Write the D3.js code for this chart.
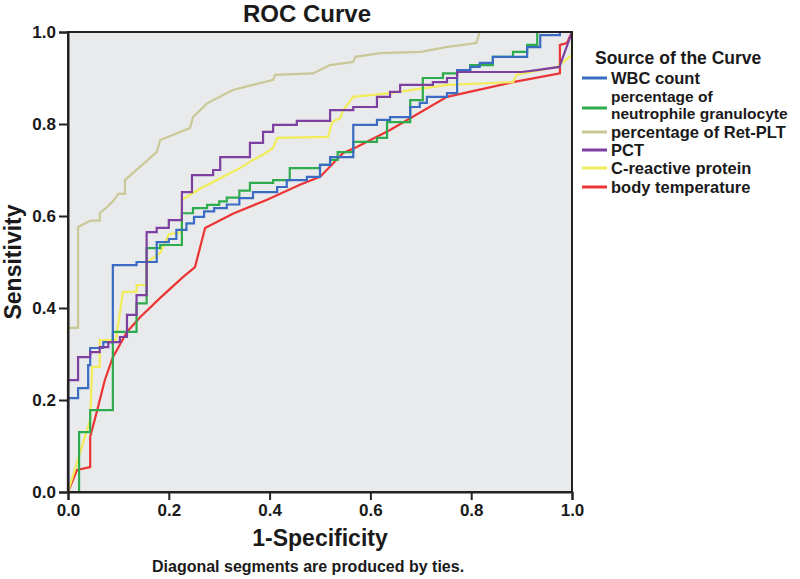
<!DOCTYPE html>
<html><head><meta charset="utf-8">
<script src="https://cdn.jsdelivr.net/npm/d3@7/dist/d3.min.js"></script>
<style>body{margin:0;background:#fff}svg text{font-family:"Liberation Sans",Arial,sans-serif;font-weight:bold;fill:#1a1a1a}</style>
</head><body><svg id="c" width="800" height="579"></svg>
<script>
const seriesNames = ["WBC count","percentage of neutrophile granulocyte","percentage of Ret-PLT","PCT","C-reactive protein","body temperature"];
const seriesColors = ["#3b6cc4","#2eab4c","#cbc897","#7d40a0","#f1ec58","#ec3434"];
const xTicks = [0,0.2,0.4,0.6,0.8,1.0];
const yTicks = [0,0.2,0.4,0.6,0.8,1.0];

const wbc = [[0,0],[0,0.204],[0.02,0.204],[0.02,0.226],[0.04,0.226],[0.04,0.276],[0.044,0.276],[0.044,0.313],[0.07,0.313],[0.07,0.326],[0.089,0.326],[0.089,0.493],[0.136,0.493],[0.136,0.5],[0.176,0.5],[0.176,0.543],[0.2,0.543],[0.2,0.55],[0.215,0.55],[0.215,0.57],[0.235,0.57],[0.235,0.584],[0.25,0.584],[0.25,0.598],[0.27,0.598],[0.27,0.61],[0.29,0.61],[0.29,0.617],[0.315,0.617],[0.315,0.625],[0.34,0.625],[0.34,0.639],[0.367,0.639],[0.367,0.652],[0.415,0.652],[0.415,0.663],[0.434,0.663],[0.434,0.678],[0.474,0.678],[0.474,0.685],[0.5,0.685],[0.5,0.711],[0.52,0.711],[0.52,0.728],[0.566,0.728],[0.566,0.798],[0.613,0.798],[0.613,0.809],[0.639,0.809],[0.639,0.815],[0.679,0.815],[0.679,0.837],[0.698,0.837],[0.698,0.846],[0.712,0.846],[0.712,0.859],[0.752,0.859],[0.752,0.867],[0.772,0.867],[0.772,0.917],[0.798,0.917],[0.798,0.924],[0.817,0.924],[0.817,0.933],[0.843,0.933],[0.843,0.946],[0.911,0.946],[0.911,0.967],[0.937,0.967],[0.937,0.993],[0.976,0.993],[0.976,1],[1,1]];
const neutro = [[0,0],[0.022,0],[0.022,0.13],[0.044,0.13],[0.044,0.178],[0.089,0.178],[0.089,0.348],[0.136,0.348],[0.136,0.41],[0.156,0.41],[0.156,0.53],[0.183,0.53],[0.183,0.537],[0.226,0.537],[0.226,0.606],[0.248,0.606],[0.248,0.617],[0.276,0.617],[0.276,0.624],[0.3,0.624],[0.3,0.632],[0.315,0.632],[0.315,0.64],[0.34,0.64],[0.34,0.655],[0.361,0.655],[0.361,0.672],[0.407,0.672],[0.407,0.678],[0.44,0.678],[0.44,0.704],[0.5,0.704],[0.5,0.711],[0.52,0.711],[0.52,0.722],[0.535,0.722],[0.535,0.739],[0.566,0.739],[0.566,0.761],[0.613,0.761],[0.613,0.77],[0.633,0.77],[0.633,0.804],[0.679,0.804],[0.679,0.852],[0.704,0.852],[0.704,0.9],[0.744,0.9],[0.744,0.91],[0.772,0.91],[0.772,0.917],[0.798,0.917],[0.798,0.928],[0.843,0.928],[0.843,0.946],[0.883,0.946],[0.883,0.957],[0.911,0.957],[0.911,0.972],[0.931,0.972],[0.931,1],[1,1]];
const retplt = [[0,0],[0,0.357],[0.02,0.357],[0.02,0.576],[0.045,0.59],[0.063,0.59],[0.063,0.606],[0.075,0.617],[0.09,0.633],[0.1,0.648],[0.113,0.648],[0.113,0.678],[0.176,0.739],[0.183,0.765],[0.242,0.791],[0.248,0.815],[0.276,0.845],[0.327,0.874],[0.367,0.885],[0.407,0.896],[0.411,0.907],[0.486,0.91],[0.52,0.928],[0.566,0.935],[0.57,0.946],[0.62,0.954],[0.70,0.957],[0.75,0.967],[0.81,0.976],[0.817,1.0],[1,1]];
const pct = [[0,0],[0,0.243],[0.02,0.243],[0.02,0.293],[0.044,0.293],[0.044,0.304],[0.063,0.304],[0.063,0.315],[0.08,0.315],[0.08,0.326],[0.103,0.326],[0.103,0.337],[0.117,0.337],[0.117,0.385],[0.136,0.385],[0.136,0.428],[0.156,0.428],[0.156,0.565],[0.176,0.565],[0.176,0.574],[0.2,0.574],[0.2,0.591],[0.226,0.591],[0.226,0.652],[0.246,0.652],[0.246,0.689],[0.288,0.689],[0.288,0.7],[0.302,0.7],[0.302,0.728],[0.361,0.728],[0.361,0.759],[0.387,0.759],[0.387,0.783],[0.407,0.783],[0.407,0.798],[0.454,0.798],[0.454,0.807],[0.52,0.807],[0.52,0.83],[0.566,0.83],[0.566,0.837],[0.613,0.837],[0.613,0.859],[0.639,0.859],[0.639,0.87],[0.659,0.87],[0.659,0.885],[0.724,0.885],[0.724,0.891],[0.752,0.891],[0.752,0.9],[0.772,0.9],[0.772,0.913],[0.9,0.913],[0.93,0.917],[0.975,0.924],[1,1]];
const crp = [[0,0],[0.044,0.157],[0.048,0.272],[0.063,0.272],[0.063,0.33],[0.095,0.33],[0.109,0.435],[0.136,0.435],[0.136,0.45],[0.156,0.45],[0.156,0.498],[0.183,0.52],[0.2,0.56],[0.226,0.565],[0.226,0.635],[0.248,0.65],[0.268,0.663],[0.288,0.674],[0.321,0.693],[0.341,0.704],[0.367,0.722],[0.387,0.733],[0.407,0.748],[0.415,0.77],[0.516,0.772],[0.524,0.804],[0.54,0.813],[0.546,0.83],[0.566,0.859],[0.639,0.867],[0.752,0.885],[0.883,0.891],[0.89,0.907],[0.97,0.924],[1,0.95],[1,1]];
const temp = [[0,0],[0.018,0.048],[0.044,0.054],[0.044,0.12],[0.058,0.178],[0.073,0.243],[0.089,0.293],[0.117,0.348],[0.143,0.38],[0.183,0.422],[0.228,0.467],[0.252,0.489],[0.272,0.574],[0.327,0.605],[0.394,0.635],[0.46,0.668],[0.5,0.685],[0.546,0.737],[0.573,0.75],[0.639,0.787],[0.752,0.859],[0.883,0.891],[0.976,0.91],[0.976,0.972],[0.99,0.976],[1,1]];
const seriesData = [wbc, neutro, retplt, pct, crp, temp];

const svg = d3.select("#c");
const L=68, R=572, T=32, B=492;
const x = d3.scaleLinear().domain([0,1]).range([L,R]);
const y = d3.scaleLinear().domain([0,1]).range([B,T]);

svg.append("rect").attr("x",L).attr("y",T).attr("width",R-L).attr("height",B-T).attr("fill","#e9eaec");

const line = d3.line().x(d=>x(d[0])).y(d=>y(d[1]));
[2,5,4,1,0,3].forEach(i=>{
  svg.append("path").attr("d",line(seriesData[i])).attr("fill","none")
    .attr("stroke",seriesColors[i]).attr("stroke-width",2.2).attr("stroke-linejoin","miter");
});

svg.append("rect").attr("x",L).attr("y",T).attr("width",R-L).attr("height",B-T).attr("fill","none").attr("stroke","#222").attr("stroke-width",2);

const xa = svg.append("g").attr("transform",`translate(0,${B})`)
  .call(d3.axisBottom(x).tickValues(xTicks).tickFormat(d3.format(".1f")).tickSize(8).tickPadding(4));
const ya = svg.append("g").attr("transform",`translate(${L},0)`)
  .call(d3.axisLeft(y).tickValues(yTicks).tickFormat(d3.format(".1f")).tickSize(9).tickPadding(3));
[xa,ya].forEach(a=>{
  a.select(".domain").attr("stroke","#222").attr("stroke-width",2);
  a.selectAll(".tick line").attr("stroke","#222").attr("stroke-width",2);
  a.selectAll(".tick text").style("font-size","17px").attr("fill","#1a1a1a");
});

svg.append("text").attr("x",307).attr("y",22).attr("text-anchor","middle").style("font-size","24px").text("ROC Curve");
svg.append("text").attr("x",(L+R)/2).attr("y",546).attr("text-anchor","middle").style("font-size","23px").text("1-Specificity");
svg.append("text").attr("transform",`translate(21,${(T+B)/2}) rotate(-90)`).attr("text-anchor","middle").style("font-size","23px").text("Sensitivity");
svg.append("text").attr("x",152).attr("y",572).style("font-size","16px").text("Diagonal segments are produced by ties.");

const lg = svg.append("g");
lg.append("text").attr("x",595).attr("y",64).style("font-size","17.5px").text("Source of the Curve");
const rowsY = [78, 108, 132, 150, 168, 187];
seriesNames.forEach((n,i)=>{
  const cy = rowsY[i];
  lg.append("line").attr("x1",582).attr("x2",607).attr("y1",cy).attr("y2",cy).attr("stroke",seriesColors[i]).attr("stroke-width",3);
  if(i===1){
    lg.append("text").attr("x",611).attr("y",cy-6).style("font-size","15.5px").text("percentage of");
    lg.append("text").attr("x",611).attr("y",cy+11).style("font-size","15.5px").text("neutrophile granulocyte");
  } else {
    lg.append("text").attr("x",611).attr("y",cy+6).style("font-size","16.5px").text(n);
  }
});
</script></body></html>
